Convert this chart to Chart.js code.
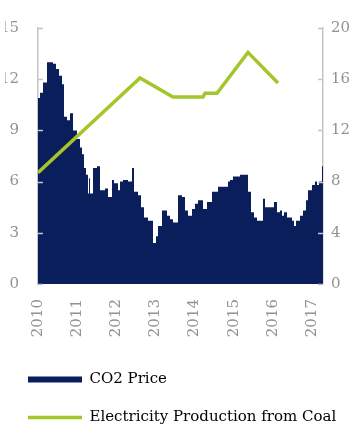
<!DOCTYPE html>
<html>
<head>
<meta charset="utf-8">
<script src="https://cdn.jsdelivr.net/npm/chart.js@4/dist/chart.umd.min.js"></script>
<style>
html,body{margin:0;padding:0;background:#fff;}
#wrap{width:356px;height:425px;position:relative;}
</style>
</head>
<body>
<div id="wrap"><canvas id="c" width="356" height="425"></canvas></div>
<script>
// ---- data ----
const priceDates = [2010.000,2010.051,2010.128,2010.230,2010.383,2010.460,2010.537,2010.613,2010.664,2010.741,2010.818,2010.894,2010.996,2011.073,2011.124,2011.175,2011.226,2011.277,2011.303,2011.329,2011.405,2011.507,2011.584,2011.712,2011.788,2011.891,2011.942,2012.044,2012.095,2012.172,2012.299,2012.402,2012.453,2012.555,2012.632,2012.708,2012.810,2012.938,2013.015,2013.066,2013.168,2013.296,2013.372,2013.449,2013.577,2013.679,2013.756,2013.832,2013.935,2014.011,2014.088,2014.216,2014.318,2014.446,2014.599,2014.854,2014.905,2014.982,2015.161,2015.365,2015.442,2015.519,2015.595,2015.749,2015.800,2016.030,2016.106,2016.183,2016.234,2016.285,2016.362,2016.489,2016.541,2016.592,2016.694,2016.771,2016.847,2016.898,2017.000,2017.077,2017.128,2017.179,2017.256,2017.282];
const priceValues = [10.9,11.2,11.8,13.0,12.9,12.6,12.2,11.7,9.8,9.6,10.0,9.0,8.5,8.0,7.6,6.8,6.4,5.3,6.2,5.3,6.8,6.9,5.5,5.6,5.1,6.1,5.9,5.5,6.0,6.1,6.0,6.8,5.4,5.2,4.5,3.9,3.7,2.4,2.8,3.4,4.3,4.0,3.8,3.6,5.2,5.1,4.3,4.0,4.4,4.7,4.9,4.4,4.8,5.4,5.7,6.0,6.1,6.3,6.4,5.4,4.2,3.9,3.7,5.0,4.5,4.8,4.2,4.3,4.0,4.2,3.9,3.7,3.4,3.7,4.0,4.3,4.9,5.5,5.8,6.0,5.8,6.0,6.9,6.9];
const coalDates = [2010.000,2012.606,2013.449,2014.216,2014.267,2014.573,2015.365,2016.132];
const coalValues = [8.7,16.1,14.6,14.6,14.9,14.9,18.1,15.7];
const yearTicks = [2010,2011,2012,2013,2014,2015,2016,2017];
const leftTicks = [0,3,6,9,12,15];
const rightTicks = [0,4,8,12,16,20];
const seriesNames = ['CO2 Price','Electricity Production from Coal'];

const NAVY = '#0a1e5c';
const GREEN = '#a3c62a';
const GREY = '#929292';
const FONT = {family: 'DejaVu Serif', size: 15};

const toXY = (xs, ys) => xs.map((x, i) => ({x: x, y: ys[i]}));

// inward tick marks on both value axes
const innerTicks = {
  id: 'innerTicks',
  afterDatasetsDraw(chart) {
    const ctx = chart.ctx;
    ctx.save();
    ctx.strokeStyle = '#c4c4c4';
    ctx.lineWidth = 1.5;
    [['y', 1], ['y2', -1]].forEach(([id, dir]) => {
      const s = chart.scales[id];
      const x0 = dir > 0 ? s.right : s.left;
      s.ticks.forEach(t => {
        const py = Math.round(s.getPixelForValue(t.value)) + 0.5;
        ctx.beginPath();
        ctx.moveTo(x0, py);
        ctx.lineTo(x0 + dir * 5, py);
        ctx.stroke();
      });
    });
    ctx.restore();
  }
};

new Chart(document.getElementById('c'), {
  type: 'line',
  data: {
    datasets: [
      {
        label: seriesNames[0],
        data: toXY(priceDates, priceValues),
        yAxisID: 'y',
        stepped: true,
        fill: 'origin',
        backgroundColor: NAVY,
        borderColor: NAVY,
        borderWidth: 0,
        pointRadius: 0,
        order: 2
      },
      {
        label: seriesNames[1],
        data: toXY(coalDates, coalValues),
        yAxisID: 'y2',
        fill: false,
        borderColor: GREEN,
        borderWidth: 3.5,
        pointRadius: 0,
        tension: 0,
        order: 1
      }
    ]
  },
  options: {
    responsive: false,
    animation: false,
    layout: {padding: {left: 5, right: 0, top: 28, bottom: -10}},
    scales: {
      x: {
        type: 'linear',
        min: yearTicks[0],
        max: 2017.282,
        afterBuildTicks: s => { s.ticks = yearTicks.map(v => ({value: v})); },
        afterFit: s => { s.height = 65; },
        grid: {display: false, drawTicks: false},
        border: {display: false},
        ticks: {
          autoSkip: false,
          minRotation: 90,
          maxRotation: 90,
          padding: 15,
          color: GREY,
          font: FONT,
          callback: v => String(v)
        }
      },
      y: {
        position: 'left',
        min: 0,
        max: 15,
        afterBuildTicks: s => { s.ticks = leftTicks.map(v => ({value: v})); },
        afterFit: s => { s.width = 33; },
        grid: {display: false, drawTicks: false},
        border: {display: true, color: '#c4c4c4', width: 1.5},
        ticks: {padding: 19, color: GREY, font: FONT, callback: v => String(v)}
      },
      y2: {
        position: 'right',
        min: 0,
        max: 20,
        afterBuildTicks: s => { s.ticks = rightTicks.map(v => ({value: v})); },
        afterFit: s => { s.width = 33; },
        grid: {display: false, drawTicks: false},
        border: {display: true, color: '#c4c4c4', width: 1.5},
        ticks: {padding: 8, color: GREY, font: FONT, callback: v => String(v)}
      }
    },
    plugins: {
      tooltip: {enabled: false},
      legend: {
        position: 'bottom',
        align: 'start',
        labels: {
          usePointStyle: true,
          pointStyleWidth: 54,
          boxHeight: 6,
          padding: 23,
          color: GREY,
          font: FONT,
          generateLabels: () => [
            {text: seriesNames[0], pointStyle: 'rect', fillStyle: NAVY, strokeStyle: NAVY, lineWidth: 0, datasetIndex: 0, hidden: false},
            {text: seriesNames[1], pointStyle: 'line', fillStyle: GREEN, strokeStyle: GREEN, lineWidth: 3.5, datasetIndex: 1, hidden: false}
          ]
        }
      }
    }
  },
  plugins: [innerTicks]
});
</script>
</body>
</html>
